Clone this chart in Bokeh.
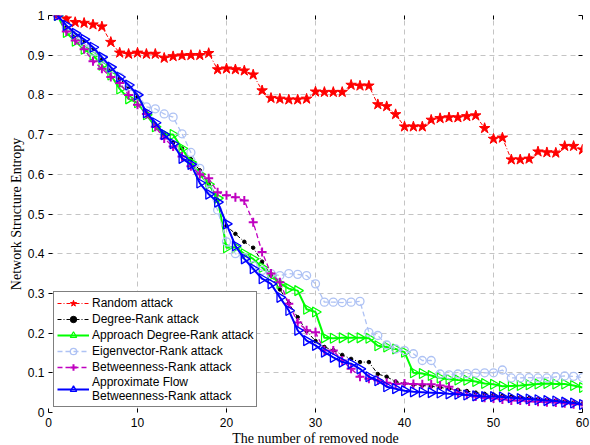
import numpy as np
from bokeh.plotting import figure
from bokeh.models import (Legend, LegendItem, FixedTicker, CustomJSTickFormatter,
                          LinearAxis, Range1d, ColumnDataSource)
from bokeh.embed import file_html
from bokeh.resources import INLINE

nodes = list(range(1, 61))

random_attack = [1.0, 0.992, 0.983, 0.981, 0.977, 0.972, 0.933, 0.906, 0.903, 0.906,
                 0.903, 0.903, 0.893, 0.897, 0.899, 0.900, 0.900, 0.905, 0.864, 0.866,
                 0.864, 0.861, 0.851, 0.811, 0.792, 0.790, 0.788, 0.788, 0.790, 0.808,
                 0.807, 0.807, 0.807, 0.825, 0.823, 0.823, 0.776, 0.771, 0.751, 0.720,
                 0.720, 0.720, 0.737, 0.741, 0.743, 0.743, 0.746, 0.748, 0.716, 0.689,
                 0.692, 0.637, 0.637, 0.639, 0.657, 0.655, 0.654, 0.671, 0.671, 0.662]

degree_rank = [1.0, 0.970, 0.950, 0.935, 0.915, 0.890, 0.865, 0.840, 0.820, 0.795,
               0.755, 0.725, 0.700, 0.680, 0.665, 0.638, 0.610, 0.575, 0.535, 0.470,
               0.450, 0.430, 0.415, 0.380, 0.345, 0.310, 0.275, 0.240, 0.205, 0.180,
               0.165, 0.157, 0.145, 0.135, 0.127, 0.127, 0.097, 0.090, 0.078, 0.073,
               0.070, 0.068, 0.066, 0.063, 0.060, 0.057, 0.054, 0.050, 0.047, 0.045,
               0.042, 0.040, 0.038, 0.036, 0.034, 0.032, 0.030, 0.028, 0.025, 0.022]

approach_degree = [1.0, 0.957, 0.935, 0.915, 0.900, 0.875, 0.850, 0.815, 0.790, 0.780,
                   0.750, 0.720, 0.700, 0.700, 0.665, 0.630, 0.600, 0.575, 0.540, 0.415,
                   0.416, 0.400, 0.387, 0.365, 0.345, 0.325, 0.312, 0.307, 0.260, 0.253,
                   0.188, 0.187, 0.188, 0.188, 0.188, 0.187, 0.168, 0.165, 0.160, 0.152,
                   0.100, 0.098, 0.093, 0.087, 0.084, 0.082, 0.081, 0.078, 0.073, 0.071,
                   0.066, 0.067, 0.068, 0.070, 0.072, 0.073, 0.072, 0.072, 0.068, 0.063]

eigenvector_rank = [1.0, 0.970, 0.950, 0.930, 0.910, 0.890, 0.865, 0.845, 0.820, 0.800,
                    0.770, 0.765, 0.752, 0.744, 0.702, 0.655, 0.615, 0.560, 0.510, 0.430,
                    0.400, 0.390, 0.370, 0.358, 0.350, 0.345, 0.350, 0.348, 0.345, 0.324,
                    0.278, 0.278, 0.277, 0.278, 0.280, 0.202, 0.194, 0.170, 0.160, 0.156,
                    0.148, 0.131, 0.131, 0.097, 0.095, 0.097, 0.098, 0.099, 0.100, 0.100,
                    0.107, 0.087, 0.087, 0.088, 0.087, 0.087, 0.090, 0.092, 0.091, 0.088]

betweenness_rank = [1.0, 0.960, 0.937, 0.915, 0.885, 0.866, 0.845, 0.830, 0.800, 0.775,
                    0.752, 0.720, 0.690, 0.670, 0.645, 0.620, 0.600, 0.590, 0.555, 0.547,
                    0.542, 0.534, 0.479, 0.404, 0.350, 0.328, 0.274, 0.227, 0.207, 0.202,
                    0.156, 0.156, 0.131, 0.110, 0.090, 0.085, 0.081, 0.075, 0.072, 0.073,
                    0.072, 0.071, 0.071, 0.068, 0.065, 0.050, 0.045, 0.040, 0.037, 0.035,
                    0.033, 0.030, 0.030, 0.028, 0.027, 0.026, 0.025, 0.023, 0.021, 0.020]

approx_flow = [1.0, 0.975, 0.955, 0.940, 0.920, 0.895, 0.870, 0.845, 0.825, 0.800,
               0.755, 0.730, 0.700, 0.677, 0.640, 0.625, 0.578, 0.550, 0.530, 0.475,
               0.420, 0.387, 0.362, 0.337, 0.324, 0.290, 0.257, 0.207, 0.181, 0.169,
               0.152, 0.139, 0.127, 0.123, 0.110, 0.090, 0.080, 0.065, 0.060, 0.055,
               0.052, 0.051, 0.050, 0.049, 0.047, 0.046, 0.044, 0.042, 0.040, 0.040,
               0.039, 0.037, 0.035, 0.034, 0.032, 0.030, 0.029, 0.026, 0.024, 0.020]

x_ticks = [0, 10, 20, 30, 40, 50, 60]
y_ticks = [0, 0.1, 0.2, 0.3, 0.4, 0.5, 0.6, 0.7, 0.8, 0.9, 1.0]

labels = ["Random attack", "Degree-Rank attack", "Approach Degree-Rank attack",
          "Eigenvector-Rank attack", "Betweenness-Rank attack",
          "Approximate Flow\nBetweenness-Rank attack"]

SANS = "Liberation Sans"
SERIF = "Liberation Serif"

p = figure(frame_width=534, frame_height=397, output_backend="svg",
           toolbar_location=None, x_range=Range1d(0, 60), y_range=Range1d(0, 1),
           min_border_left=48, min_border_right=8, min_border_top=15,
           min_border_bottom=33)
p.outline_line_color = None
p.background_fill_color = "white"
p.border_fill_color = "white"

for ax in (p.xaxis[0], p.yaxis[0]):
    ax.major_tick_in = 4
    ax.major_tick_out = 0
    ax.minor_tick_in = 0
    ax.minor_tick_out = 0
    ax.axis_line_color = None
    ax.major_tick_line_color = "black"
    ax.major_label_text_font = SANS
    ax.major_label_text_font_size = "12px"
    ax.major_label_text_color = "black"
    ax.axis_label_text_font = SERIF
    ax.axis_label_text_font_size = "14px"
    ax.axis_label_text_font_style = "normal"
    ax.axis_label_text_color = "black"

p.xaxis.ticker = FixedTicker(ticks=x_ticks)
p.yaxis.ticker = FixedTicker(ticks=y_ticks)
p.yaxis.formatter = CustomJSTickFormatter(code="return String(Math.round(tick*10)/10);")
p.xaxis.axis_label = "The number of removed node"
p.yaxis.axis_label = "Network Structure Entropy"
p.xaxis.major_label_standoff = 5
p.yaxis.major_label_standoff = 4
p.xaxis.axis_label_standoff = 1
p.yaxis.axis_label_standoff = 1

# tick marks on the top and right sides, without labels
for place, ticks in (("right", y_ticks), ("above", x_ticks)):
    ax = LinearAxis(ticker=FixedTicker(ticks=ticks), axis_line_color=None,
                    major_tick_in=4, major_tick_out=0, minor_tick_in=0,
                    minor_tick_out=0, major_label_standoff=0,
                    major_label_text_font_size="12px",
                    formatter=CustomJSTickFormatter(code="return '';"),
                    major_tick_line_color="black")
    p.add_layout(ax, place)

p.xgrid.ticker = FixedTicker(ticks=x_ticks)
p.ygrid.ticker = FixedTicker(ticks=y_ticks)
for g in (p.xgrid[0], p.ygrid[0]):
    g.grid_line_color = "#c4c4c4"
    g.grid_line_dash = "5 4"
    g.grid_line_width = 1

red = "#ff0000"
green = "#00ff00"
lightblue = "#aec2f4"
magenta = "#c000c0"
blue = "#0000ff"

right_angle = [-np.pi / 2] * len(nodes)
src_app = ColumnDataSource(dict(x=nodes, y=approach_degree, ang=right_angle))
src_flow = ColumnDataSource(dict(x=nodes, y=approx_flow, ang=right_angle))

items = []
l = p.line(nodes, random_attack, line_color=red, line_dash="4 2 1 2", line_width=1)
m = p.scatter(nodes, random_attack, marker="star", size=11, fill_color=red,
              line_color=red)
items.append(LegendItem(label=labels[0], renderers=[l, m]))

l = p.line(nodes, degree_rank, line_color="black", line_dash="4 2 1 2", line_width=1)
m = p.scatter(nodes, degree_rank, marker="circle", size=3.5, fill_color="black",
              line_color="black")
items.append(LegendItem(label=labels[1], renderers=[l, m]))

l = p.line(nodes, approach_degree, line_color=green, line_width=2)
m = p.scatter("x", "y", source=src_app, marker="triangle", angle="ang", size=10,
              fill_color=None, line_color=green, line_width=1.2)
items.append(LegendItem(label=labels[2], renderers=[l, m]))

l = p.line(nodes, eigenvector_rank, line_color=lightblue, line_dash="5 3", line_width=1.3)
m = p.scatter(nodes, eigenvector_rank, marker="circle", size=8, fill_color=None,
              line_color=lightblue, line_width=1.3)
items.append(LegendItem(label=labels[3], renderers=[l, m]))

l = p.line(nodes, betweenness_rank, line_color=magenta, line_dash="5 3", line_width=1.3)
m = p.scatter(nodes, betweenness_rank, marker="cross", size=9, line_color=magenta,
              line_width=2)
items.append(LegendItem(label=labels[4], renderers=[l, m]))

l = p.line(nodes, approx_flow, line_color=blue, line_width=2)
m = p.scatter("x", "y", source=src_flow, marker="triangle", angle="ang", size=10,
              fill_color=None, line_color=blue, line_width=1.3)
items.append(LegendItem(label=labels[5], renderers=[l, m]))

legend = Legend(items=items, location=(5, 5), border_line_color="black",
                border_line_width=1, background_fill_color="white",
                background_fill_alpha=1.0, label_text_font=SANS,
                label_text_font_size="12px", label_text_color="black",
                glyph_width=32, glyph_height=16, label_height=16, spacing=0,
                padding=3, margin=0, label_standoff=3, label_text_line_height=0.95)
p.add_layout(legend, "center")

open("out.html", "w").write(file_html(p, INLINE))
